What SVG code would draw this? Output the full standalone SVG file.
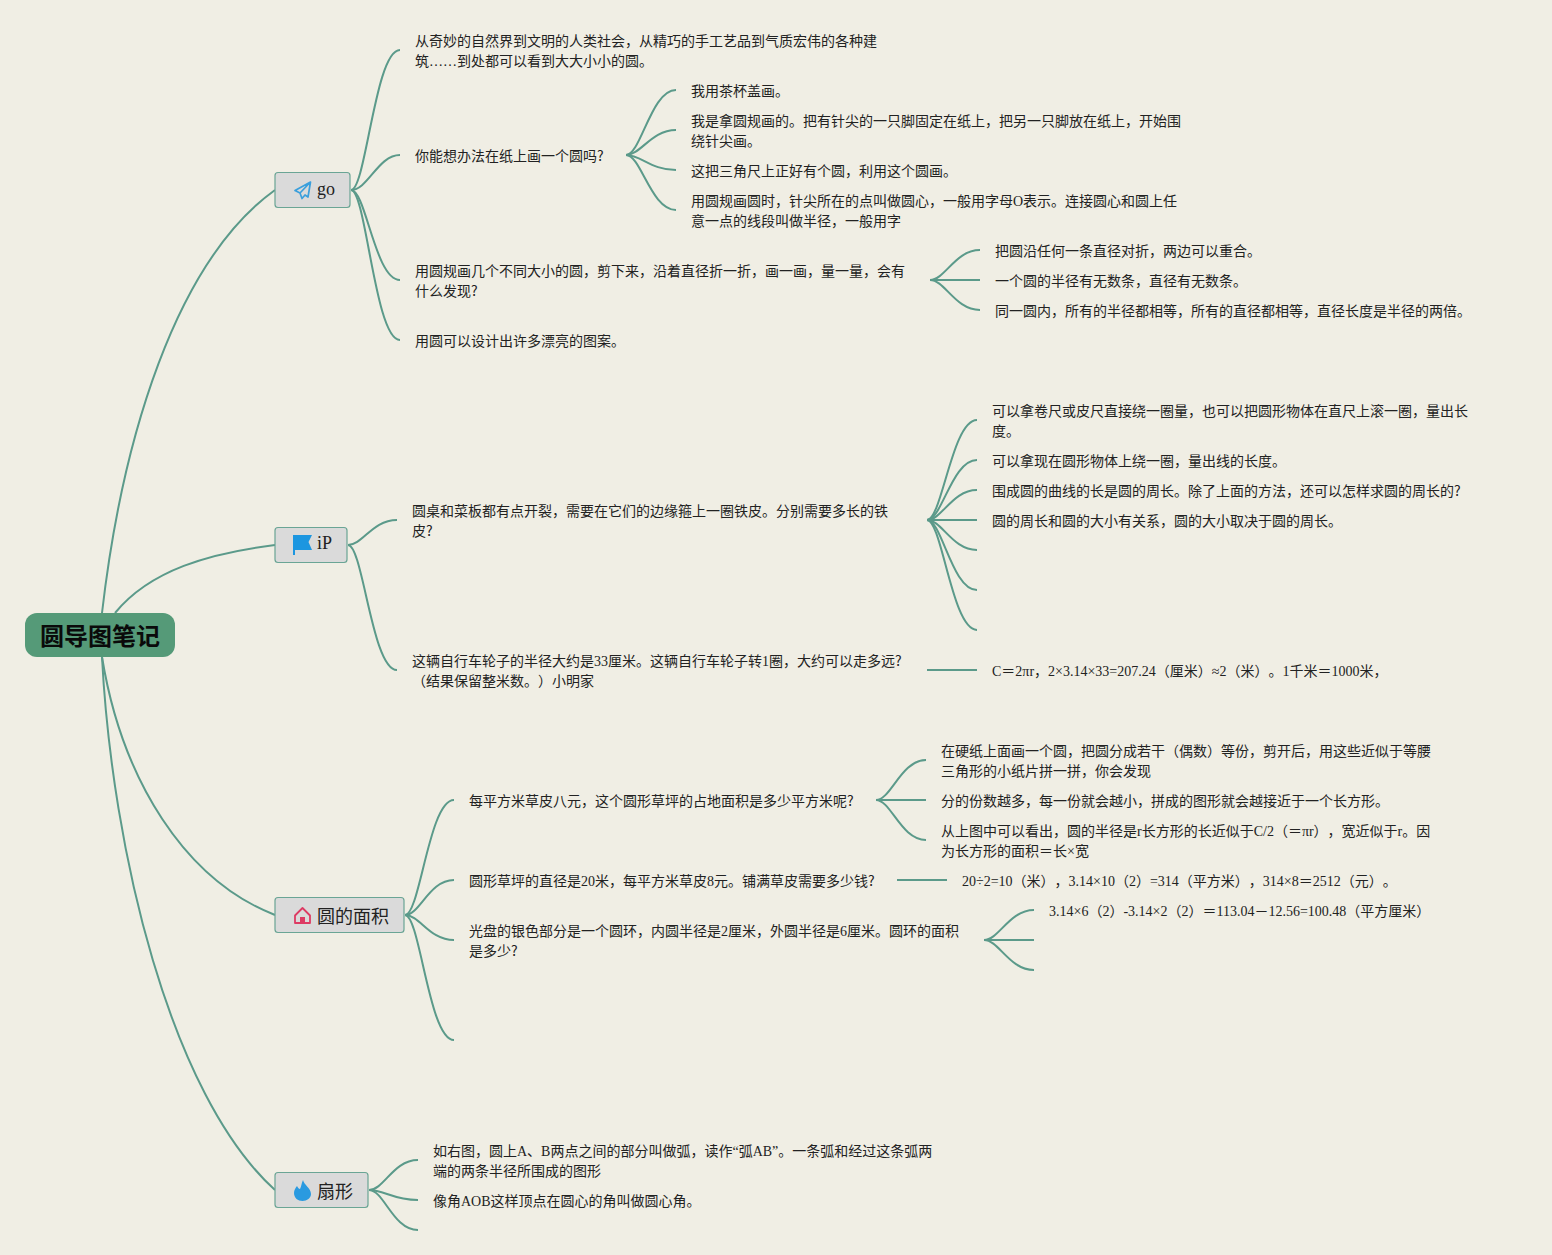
<svg xmlns="http://www.w3.org/2000/svg" width="1552" height="1255" viewBox="0 0 1552 1255">
<style>
.bg{fill:#f0eee4}
.c{fill:none;stroke:#5b9a8a;stroke-width:2}
text{text-spacing-trim:space-all}
.t{font-family:"Liberation Serif","Noto Sans CJK SC",serif;font-size:14px;fill:#222}
.q{font-family:"Noto Sans CJK SC",sans-serif}
.box{fill:#dadada;stroke:#6aa595;stroke-width:1.200}
.n{font-family:"Liberation Serif","Noto Sans CJK SC",serif;font-size:18px;fill:#222}
.r{font-family:"Noto Sans CJK SC","Liberation Sans",sans-serif;font-size:24px;font-weight:700;fill:#0a0a0a;text-anchor:middle}
</style>
<rect class="bg" width="1552" height="1255"/>
<g id="connectors">
<path class="c" d="M102 613C122 440 175 262 275 190"/>
<path class="c" d="M115 613C150 570 210 553 275 545"/>
<path class="c" d="M102 657C122 780 185 880 275 915"/>
<path class="c" d="M102 657C112 850 170 1095 275 1190"/>
<path class="c" d="M351 190C366 190 375 50 400 50"/>
<path class="c" d="M351 190C368 190 378 155 400 155"/>
<path class="c" d="M351 190C366 190 375 280 400 280"/>
<path class="c" d="M351 190C366 190 375 340 400 340"/>
<path class="c" d="M626 155C641 155 651 90 676 90"/>
<path class="c" d="M626 155C641 155 651 130 676 130"/>
<path class="c" d="M626 155C641 155 651 170 676 170"/>
<path class="c" d="M626 155C641 155 651 210 676 210"/>
<path class="c" d="M930 280C945 280 955 250 980 250"/>
<path class="c" d="M930 280H980"/>
<path class="c" d="M930 280C945 280 955 310 980 310"/>
<path class="c" d="M348 545C363 545 372 520 397 520"/>
<path class="c" d="M348 545C363 545 372 670 397 670"/>
<path class="c" d="M927 520C942 520 952 420 977 420"/>
<path class="c" d="M927 520C942 520 952 460 977 460"/>
<path class="c" d="M927 520C942 520 952 490 977 490"/>
<path class="c" d="M927 520H977"/>
<path class="c" d="M927 520C942 520 952 550 977 550"/>
<path class="c" d="M927 520C942 520 952 590 977 590"/>
<path class="c" d="M927 520C942 520 952 630 977 630"/>
<path class="c" d="M927 670H977"/>
<path class="c" d="M405 915C420 915 429 800 454 800"/>
<path class="c" d="M405 915C420 915 429 880 454 880"/>
<path class="c" d="M405 915C420 915 429 940 454 940"/>
<path class="c" d="M405 915C420 915 429 1040 454 1040"/>
<path class="c" d="M876 800C891 800 901 760 926 760"/>
<path class="c" d="M876 800H926"/>
<path class="c" d="M876 800C891 800 901 840 926 840"/>
<path class="c" d="M897 880H947"/>
<path class="c" d="M984 940C999 940 1009 910 1034 910"/>
<path class="c" d="M984 940H1034"/>
<path class="c" d="M984 940C999 940 1009 970 1034 970"/>
<path class="c" d="M369 1190C384 1190 393 1160 418 1160"/>
<path class="c" d="M369 1190C384 1190 393 1200 418 1200"/>
<path class="c" d="M369 1190C384 1190 393 1230 418 1230"/>
</g>
<g id="root"><rect x="25" y="613" width="150" height="44" rx="12" fill="#559a78"/><text class="r" x="100" y="645">圆导图笔记</text></g>
<g id="go"><rect class="box" x="275" y="172.500" width="75" height="35" rx="3"/>
<path d="M310.500 182L295 190.500L300 193L302 198.500L305 195L308 197ZM310.500 182L300 193" fill="none" stroke="#3a9fdc" stroke-width="1.700" stroke-linejoin="round"/>
<text class="n" x="317" y="194.500">go</text></g>
<g id="ip"><rect class="box" x="275" y="527.500" width="72" height="35" rx="3"/>
<path d="M293 535H312L308.500 542L312 550H295V555H293Z" fill="#1c96e0"/>
<text class="n" x="317" y="549">iP</text></g>
<g id="area"><rect class="box" x="275" y="897.500" width="129" height="35" rx="3"/>
<path d="M295 915.500L302.500 908L310 915.500V923H295Z" fill="none" stroke="#dd3a63" stroke-width="1.800" stroke-linejoin="round"/><rect x="300" y="917" width="5" height="6" fill="#dd3a63"/>
<text class="n" x="317" y="923">圆的面积</text></g>
<g id="sector"><rect class="box" x="275" y="1172.500" width="93" height="35" rx="3"/>
<path d="M303 1180C304 1185 311 1188 311 1194C311 1198 307 1201 302.500 1201C298 1201 294 1198 294 1193C294 1190 295.500 1188 297 1186C298 1188 299 1189 300 1189C301.500 1186 301.500 1183 303 1180Z" fill="#2a9ae0"/>
<text class="n" x="317" y="1198">扇形</text></g>
<g id="n1"><text class="t" x="415" y="46">从奇妙的自然界到文明的人类社会，从精巧的手工艺品到气质宏伟的各种建</text><text class="t" x="415" y="66">筑……到处都可以看到大大小小的圆。</text></g>
<g id="n2"><text class="t" x="415" y="161">你能想办法在纸上画一个圆吗<tspan class="q">?</tspan></text></g>
<g id="n3"><text class="t" x="691" y="96">我用茶杯盖画。</text></g>
<g id="n4"><text class="t" x="691" y="126">我是拿圆规画的。把有针尖的一只脚固定在纸上，把另一只脚放在纸上，开始围</text><text class="t" x="691" y="146">绕针尖画。</text></g>
<g id="n5"><text class="t" x="691" y="176">这把三角尺上正好有个圆，利用这个圆画。</text></g>
<g id="n6"><text class="t" x="691" y="206">用圆规画圆时，针尖所在的点叫做圆心，一般用字母O表示。连接圆心和圆上任</text><text class="t" x="691" y="226">意一点的线段叫做半径，一般用字</text></g>
<g id="n7"><text class="t" x="415" y="276">用圆规画几个不同大小的圆，剪下来，沿着直径折一折，画一画，量一量，会有</text><text class="t" x="415" y="296">什么发现<tspan class="q">?</tspan></text></g>
<g id="n8"><text class="t" x="995" y="256">把圆沿任何一条直径对折，两边可以重合。</text></g>
<g id="n9"><text class="t" x="995" y="286">一个圆的半径有无数条，直径有无数条。</text></g>
<g id="n10"><text class="t" x="995" y="316">同一圆内，所有的半径都相等，所有的直径都相等，直径长度是半径的两倍。</text></g>
<g id="n11"><text class="t" x="415" y="346">用圆可以设计出许多漂亮的图案。</text></g>
<g id="n12"><text class="t" x="412" y="516">圆桌和菜板都有点开裂，需要在它们的边缘箍上一圈铁皮。分别需要多长的铁</text><text class="t" x="412" y="536">皮<tspan class="q">?</tspan></text></g>
<g id="n13"><text class="t" x="992" y="416">可以拿卷尺或皮尺直接绕一圈量，也可以把圆形物体在直尺上滚一圈，量出长</text><text class="t" x="992" y="436">度。</text></g>
<g id="n14"><text class="t" x="992" y="466">可以拿现在圆形物体上绕一圈，量出线的长度。</text></g>
<g id="n15"><text class="t" x="992" y="496">围成圆的曲线的长是圆的周长。除了上面的方法，还可以怎样求圆的周长的<tspan class="q">?</tspan></text></g>
<g id="n16"><text class="t" x="992" y="526">圆的周长和圆的大小有关系，圆的大小取决于圆的周长。</text></g>
<g id="n17"><text class="t" x="412" y="666">这辆自行车轮子的半径大约是33厘米。这辆自行车轮子转1圈，大约可以走多远<tspan class="q">?</tspan></text><text class="t" x="412" y="686">（结果保留整米数。）小明家</text></g>
<g id="n18"><text class="t" x="992" y="676">C＝2πr，2×3.14×33=207.24（厘米）≈2（米）。1千米＝1000米，</text></g>
<g id="n19"><text class="t" x="469" y="806">每平方米草皮八元，这个圆形草坪的占地面积是多少平方米呢<tspan class="q">?</tspan></text></g>
<g id="n20"><text class="t" x="941" y="756">在硬纸上面画一个圆，把圆分成若干（偶数）等份，剪开后，用这些近似于等腰</text><text class="t" x="941" y="776">三角形的小纸片拼一拼，你会发现</text></g>
<g id="n21"><text class="t" x="941" y="806">分的份数越多，每一份就会越小，拼成的图形就会越接近于一个长方形。</text></g>
<g id="n22"><text class="t" x="941" y="836">从上图中可以看出，圆的半径是r长方形的长近似于C/2（＝πr），宽近似于r。因</text><text class="t" x="941" y="856">为长方形的面积＝长×宽</text></g>
<g id="n23"><text class="t" x="469" y="886">圆形草坪的直径是20米，每平方米草皮8元。铺满草皮需要多少钱<tspan class="q">?</tspan></text></g>
<g id="n24"><text class="t" x="962" y="886">20÷2=10（米），3.14×10（2）=314（平方米），314×8＝2512（元）。</text></g>
<g id="n25"><text class="t" x="469" y="936">光盘的银色部分是一个圆环，内圆半径是2厘米，外圆半径是6厘米。圆环的面积</text><text class="t" x="469" y="956">是多少<tspan class="q">?</tspan></text></g>
<g id="n26"><text class="t" x="1049" y="916">3.14×6（2）-3.14×2（2）＝113.04－12.56=100.48（平方厘米）</text></g>
<g id="n27"><text class="t" x="433" y="1156">如右图，圆上A、B两点之间的部分叫做弧，读作“弧AB”。一条弧和经过这条弧两</text><text class="t" x="433" y="1176">端的两条半径所围成的图形</text></g>
<g id="n28"><text class="t" x="433" y="1206">像角AOB这样顶点在圆心的角叫做圆心角。</text></g>
</svg>
